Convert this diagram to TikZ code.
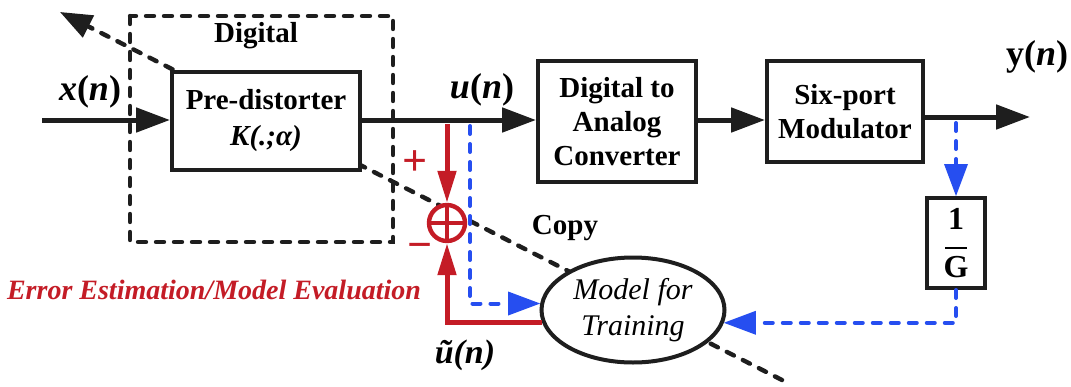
\documentclass[tikz,border=0pt]{standalone}
\usepackage{fontspec}
\setmainfont{LiberationSerif}[Extension=.ttf,UprightFont=*-Regular,BoldFont=*-Bold,ItalicFont=*-Italic,BoldItalicFont=*-BoldItalic]
\usetikzlibrary{arrows.meta,shapes.geometric,calc}
\definecolor{myred}{RGB}{196,28,38}
\definecolor{myblue}{RGB}{38,78,240}
\definecolor{ink}{RGB}{30,30,30}
\begin{document}
\begin{tikzpicture}[x=0.5pt,y=-0.5pt,
  blk/.style={draw=ink,line width=2pt,fill=white,align=center,inner sep=0pt,
    font=\fontsize{14.5}{17}\selectfont\bfseries},
  sig/.style={draw=ink,line width=2.5pt,-{Triangle[length=17pt,width=12pt]}},
  blueline/.style={draw=myblue,line width=2pt,dash pattern=on 4pt off 5pt,line cap=round},
  bluearr/.style={blueline,-{Triangle[length=16pt,width=12pt,fill=myblue,line width=0pt]}},
  redarr/.style={draw=myred,line width=2.5pt,-{Triangle[length=16pt,width=9pt]}},
  blackdash/.style={draw=ink,line width=2.2pt,dash pattern=on 4pt off 5pt,line cap=round},
  lbl/.style={font=\fontsize{18}{20}\selectfont\bfseries},
  txt/.style={font=\fontsize{14.5}{16}\selectfont\bfseries}
]
\useasboundingbox (0,0) rectangle (1071,386);
\fill[white] (0,0) rectangle (1071,386);

% copy diagonal (behind everything)
\coordinate (cpA) at (60,12);
\coordinate (cpB) at (782,380);
\draw[blackdash] (cpB) -- ($(cpA)!0.04!(cpB)$);
\draw[ink,-{Triangle[length=16pt,width=12pt]},line width=2pt] ($(cpA)!0.045!(cpB)$) -- (cpA);

% digital dashed region
\draw[blackdash] (130,16) rectangle (393,242);
\node[txt] (dig) at (256,36) {Digital};

% blocks
\node[blk,minimum width=94pt,minimum height=49pt] (pre) at (266,121)
  {Pre-distorter\\[1pt]{\itshape K(.;α)}};
\node[blk,minimum width=79pt,minimum height=60.5pt] (dac) at (617,121.5)
  {Digital to\\Analog\\Converter};
\node[blk,minimum width=78pt,minimum height=50.5pt] (mod) at (845,111.5)
  {Six-port\\Modulator};
\node[blk,minimum width=29pt,minimum height=45pt,font=\fontsize{16}{15}\selectfont\bfseries] (g) at (956,243)
  {1\\[-5pt]\rule{11pt}{1.3pt}\\[-1pt]G};
\node[draw=ink,line width=2pt,fill=white,ellipse,minimum width=91.5pt,minimum height=52.5pt,
  inner sep=0pt,align=center,font=\fontsize{15}{18}\selectfont\itshape] (ell) at (633,310)
  {Model for\\Training};
\node[draw=myred,line width=2.2pt,fill=white,circle,minimum size=18pt,inner sep=0pt] (sum) at (447,223) {};
\draw[myred,line width=2.2pt] (sum.north) -- (sum.south) (sum.west) -- (sum.east);

% coordinates
\coordinate (xin) at (42,120);
\coordinate (tapR) at (447,120);
\coordinate (tapB) at (470,120);
\coordinate (yout) at (1030,117);
\coordinate (tapG) at (956,117);

% main signal path
\draw[sig] (xin) -- (pre.west |- xin);
\draw[sig] (pre.east |- xin) -- (dac.west |- xin);
\draw[sig] (dac.east |- xin) -- (mod.west |- xin);
\draw[sig] (mod.east |- yout) -- (yout);

% blue feedback
\draw[bluearr] ([yshift=-3pt]tapB) |- (ell.176);
\draw[bluearr] ([yshift=-3pt]tapG) -- (g.north);
\draw[bluearr] (g.south) |- (ell.-8);

% red error
\draw[redarr] ([yshift=-2pt]tapR) -- (sum.north);
\draw[redarr] (ell.188) -| (sum.south);

% labels
\node[lbl] (xl) at (90,92) {\textit{x}(\textit{n})};
\node[lbl] (ul) at (482,90) {\textit{u}(\textit{n})};
\node[lbl] (yl) at (1037,57) {y(\textit{n})};
\node[lbl,font=\fontsize{17}{20}\selectfont\bfseries\itshape] (utl) at (465,355) {ũ(n)};
\node[txt] (copy) at (565,228) {Copy};
\node[myred,font=\fontsize{22}{20}\selectfont\bfseries] (plus) at (415,163) {+};
\node[myred,font=\fontsize{22}{20}\selectfont\bfseries] (minus) at (420,251) {−};
\node[myred,font=\fontsize{14}{16}\selectfont\bfseries\itshape] (err) at (214,290) {Error Estimation/Model Evaluation};
\end{tikzpicture}
\end{document}
